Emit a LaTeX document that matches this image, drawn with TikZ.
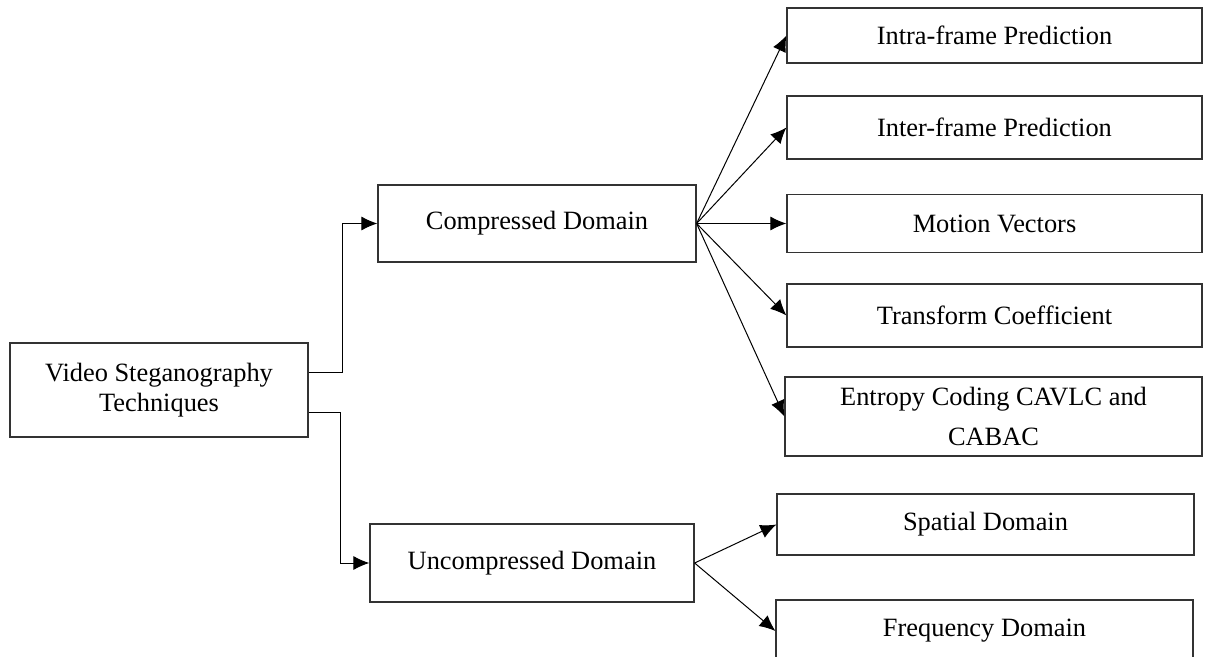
\documentclass[tikz,border=0pt]{standalone}
\usepackage{fontspec}
\setmainfont{Liberation Serif}
\usepackage{tikz}
\usetikzlibrary{positioning,arrows.meta}

\begin{document}
\begin{tikzpicture}[x=0.5pt,y=-0.5pt,
  box/.style={draw=black!80,line width=0.6pt,inner sep=0pt,align=center,
    font=\fontsize{13.2}{15}\selectfont},
  leaf/.style={box,minimum width=207.5pt},
  link/.style={line width=0.5pt,-{Latex[length=8pt,width=7pt]}}]
\useasboundingbox (0,0) rectangle (1208,657);
% root and the two domains
\node[box,minimum width=149pt,minimum height=47pt] (tech) at (159,390) {Video Steganography\\Techniques};
\node[box,minimum width=159pt,minimum height=38.5pt] (comp) at (537,223.5) {Compressed Domain};
\node[box,minimum width=162pt,minimum height=39pt] (uncomp) at (532,563) {Uncompressed Domain};
% compressed domain leaves
\node[leaf,minimum height=27.5pt] (intra) at (994.5,35.5) {Intra-frame Prediction};
\node[leaf,minimum height=31.5pt] (inter) at (994.5,127.5) {Inter-frame Prediction};
\node[leaf,minimum height=29pt] (motion) at (994.5,223.5) {Motion Vectors};
\node[leaf,minimum height=31.5pt] (transform) at (994.5,315.5) {Transform Coefficient};
\node[leaf,minimum width=208.5pt,minimum height=39.5pt,
  font=\fontsize{13.2}{20}\selectfont] (entropy) at (993.5,416.5) {Entropy Coding CAVLC and\\CABAC};
% uncompressed domain leaves
\node[leaf,minimum width=208.5pt,minimum height=30.5pt] (spatial) at (985.5,524.5) {Spatial Domain};
\node[leaf,minimum width=208.5pt,minimum height=31pt] (freq) at (984.5,631) {Frequency Domain};
% connectors
\draw[link] ([yshift=9pt]tech.east) -- ++(34,0) |- (comp.west);
\draw[link] ([yshift=-11pt]tech.east) -- ++(32,0) |- (uncomp.west);
\foreach \t in {intra,inter,motion,transform,entropy}
  \draw[link] (comp.east) -- (\t.west);
\foreach \t in {spatial,freq}
  \draw[link] (uncomp.east) -- (\t.west);
\end{tikzpicture}
\end{document}
